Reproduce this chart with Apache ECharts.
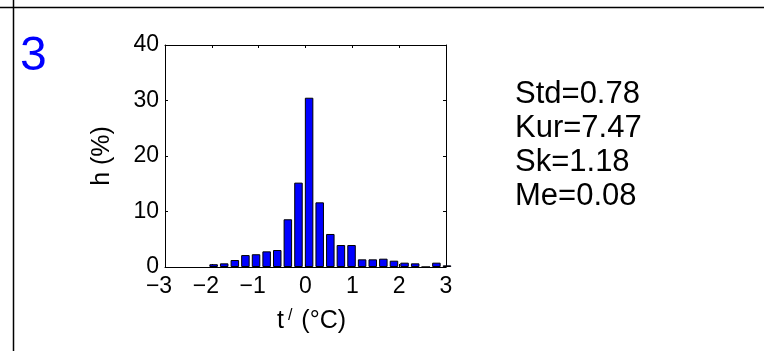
<!DOCTYPE html>
<html>
<head>
<meta charset="utf-8">
<script src="https://cdn.jsdelivr.net/npm/echarts@6/dist/echarts.min.js"></script>
<style>
html,body{margin:0;padding:0;background:#fff;}
#c{width:764px;height:351px;}
</style>
</head>
<body>
<div id="c"></div>
<script>
// Data
const binCenters = [-1.962, -1.736, -1.509, -1.283, -1.056, -0.830, -0.603, -0.377, -0.150, 0.077, 0.303, 0.530, 0.756, 0.983, 1.209, 1.436, 1.662, 1.889, 2.115, 2.342, 2.568, 2.795, 3.021];
const freqPercent = [0.5, 0.66, 1.26, 2.15, 2.3, 2.82, 3.06, 8.6, 15.2, 30.5, 11.65, 5.95, 3.96, 3.96, 1.38, 1.38, 1.5, 1.14, 0.78, 0.66, 0, 0.78, 0.3];
const xTicks = [-3, -2, -1, 0, 1, 2, 3];
const yTicks = [0, 10, 20, 30, 40];
const panelLabel = '3';
const statLines = ['Std=0.78', 'Kur=7.47', 'Sk=1.18', 'Me=0.08'];

const FONT = '"Liberation Sans", Arial, Helvetica, sans-serif';
const chart = echarts.init(document.getElementById('c'), null, {renderer: 'canvas'});

const seriesData = binCenters.map((x, i) => [x, freqPercent[i]]);
const fmtX = v => v < 0 ? '{n|' + String(v).replace('-', '\u2212') + '}' : '{p|' + v + '}';

const baseX = {
  type: 'value', min: xTicks[0], max: xTicks[xTicks.length - 1], interval: 1,
  axisLine: {show: true, onZero: false, lineStyle: {color: '#000', width: 1}},
  axisTick: {show: true, inside: true, length: 3, lineStyle: {color: '#000'}},
  splitLine: {show: false}
};
const baseY = {
  type: 'value', min: yTicks[0], max: yTicks[yTicks.length - 1], interval: 10,
  axisLine: {show: true, onZero: false, lineStyle: {color: '#000', width: 1}},
  axisTick: {show: true, inside: true, length: 3, lineStyle: {color: '#000'}},
  splitLine: {show: false}
};

chart.setOption({
  animation: false,
  backgroundColor: '#fff',
  grid: {left: 165, top: 45, width: 281, height: 222, containLabel: false},
  xAxis: [
    Object.assign({}, baseX, {
      position: 'bottom',
      axisLabel: {
        show: true, color: '#000', fontFamily: FONT, fontSize: 23, margin: 8, formatter: fmtX,
        rich: {
          n: {fontFamily: FONT, fontSize: 23, color: '#000', padding: [0, 12, 0, 0]},
          p: {fontFamily: FONT, fontSize: 23, color: '#000'}
        }
      },
      name: '{t|t}{s|/}{t| (°C)}',
      nameLocation: 'middle',
      nameGap: 41,
      nameTextStyle: {
        padding: [0, 0, 0, 12],
        rich: {
          t: {fontFamily: FONT, fontSize: 25, color: '#000'},
          s: {fontFamily: FONT, fontSize: 16, color: '#000', verticalAlign: 'top', padding: [0, 2, 10, 4]}
        }
      }
    }),
    Object.assign({}, baseX, {position: 'top', axisLabel: {show: false}})
  ],
  yAxis: [
    Object.assign({}, baseY, {
      position: 'left',
      axisLabel: {show: true, color: '#000', fontFamily: FONT, fontSize: 23, margin: 6},
      name: 'h (%)',
      nameLocation: 'middle',
      nameGap: 50,
      nameRotate: 90,
      nameTextStyle: {fontFamily: FONT, fontSize: 25, color: '#000'}
    }),
    Object.assign({}, baseY, {position: 'right', axisLabel: {show: false}})
  ],
  series: [{
    type: 'bar',
    data: seriesData,
    barWidth: 8.5,
    clip: true,
    itemStyle: {color: '#0000ff', borderColor: '#000', borderWidth: 1}
  }],
  graphic: [
    {type: 'line', shape: {x1: 0, y1: 7.5, x2: 764, y2: 7.5}, style: {stroke: '#000', lineWidth: 1.5}},
    {type: 'line', shape: {x1: 13.5, y1: 0, x2: 13.5, y2: 351}, style: {stroke: '#000', lineWidth: 1.5}},
    {type: 'text', left: 20, top: 33, style: {text: panelLabel, fill: '#0000ff', font: '48px ' + FONT}},
    {type: 'text', left: 515, top: 77, style: {text: statLines.join('\n'), fill: '#000', font: '31px ' + FONT, lineHeight: 34}}
  ]
});
</script>
</body>
</html>
